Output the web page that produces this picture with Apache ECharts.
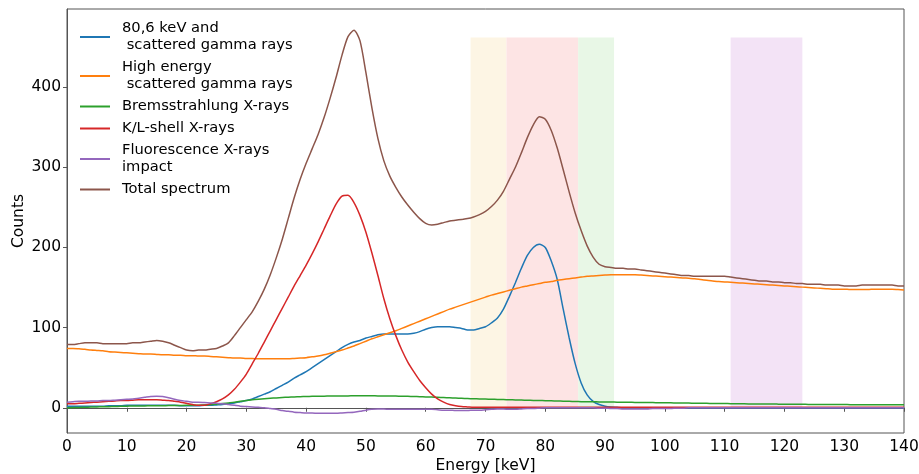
<!DOCTYPE html>
<html>
<head>
<meta charset="utf-8">
<script src="https://cdn.jsdelivr.net/npm/echarts@6/dist/echarts.min.js"></script>
<style>
  html, body { margin: 0; padding: 0; background: #fff; }
  #chart { width: 919px; height: 474px; }
</style>
</head>
<body>
<div id="chart"></div>
<script>
// energy channels, 1 keV apart
const energy = Array.from({ length: 141 }, (_, i) => i);

const gamma806 = [
  2, 2, 2, 2, 2, 2, 2, 2.5, 2.5, 2.5,
  3, 3, 3, 3, 3, 3, 3, 3, 3, 2.5,
  2.5, 2.5, 2.5, 3, 3, 3.5, 4, 5, 6, 7.5,
  9, 11, 14, 17, 20, 24, 28, 32, 37, 41,
  45, 50, 55, 60, 65, 70, 75, 79, 82, 84,
  87, 89, 91, 92, 92, 92, 92, 92, 93, 95,
  98, 100, 101, 101, 101, 100, 99, 97, 97, 99,
  101, 106, 112, 123, 139, 156, 174, 190, 200, 204,
  200, 183, 160, 123, 87, 55, 31, 16, 8, 4,
  2, 1, 0.5, 0, 0, 0, 0, 0, 0, 0,
  0, 0, 0, 0, 0, 0, 0, 0, 0, 0,
  0, 0, 0, 0, 0, 0, 0, 0, 0, 0,
  0, 0, 0, 0, 0, 0, 0, 0, 0, 0,
  0, 0, 0, 0, 0, 0, 0, 0, 0, 0, 0
];

const highEnergy = [
  74, 74, 73.5, 73, 72, 71.5, 71, 70, 69.5, 69,
  68.5, 68, 67.5, 67, 67, 66.5, 66, 66, 65.5, 65.5,
  65, 65, 64.5, 64.5, 64, 63.5, 63, 62.5, 62, 62,
  61.5, 61.5, 61, 61, 61, 61, 61, 61, 61.5, 62,
  62.5, 63.5, 64.5, 66, 68, 70, 72, 74.5, 77, 80,
  83, 86, 88.5, 91, 93.5, 96, 99, 102, 105, 108,
  111, 114, 117, 120, 123, 125.5, 128, 130.5, 133, 135.5,
  138, 140.5, 142.5, 144.5, 146.5, 148.5, 150.5, 152, 153.5, 155,
  156.5, 157.5, 159, 160, 161, 162, 163, 164, 164.5, 165,
  165.5, 166, 166, 166, 166, 166, 165.5, 165, 164.5, 164,
  163.5, 163, 162.5, 162, 161.5, 161, 160, 159, 158, 157.5,
  157, 156.5, 156, 155.5, 155, 154.5, 154, 153.5, 153, 152.5,
  152, 151.5, 151, 150.5, 150, 149.5, 149, 148.5, 148, 148,
  148, 147.5, 147.5, 147.5, 147.5, 148, 148, 148, 148, 147.5, 147
];

const brems = [
  0, 0.2, 0.4, 0.6, 0.8, 1, 1.2, 1.4, 1.6, 1.8,
  2, 2.1, 2.2, 2.3, 2.4, 2.5, 2.6, 2.7, 2.8, 2.9,
  3, 3, 3.2, 3.5, 4, 4.5, 5.2, 6, 7, 8,
  9, 10, 10.7, 11.3, 11.8, 12.3, 12.8, 13.2, 13.5, 13.8,
  14, 14.2, 14.4, 14.5, 14.6, 14.7, 14.8, 14.8, 14.9, 14.9,
  14.9, 14.9, 14.8, 14.8, 14.7, 14.6, 14.4, 14.2, 14, 13.8,
  13.5, 13.3, 13, 12.7, 12.4, 12.1, 11.8, 11.5, 11.2, 11,
  10.8, 10.6, 10.4, 10.2, 10, 9.8, 9.6, 9.4, 9.2, 9,
  8.8, 8.6, 8.4, 8.2, 8, 7.8, 7.6, 7.5, 7.4, 7.3,
  7.2, 7.1, 7, 6.9, 6.8, 6.7, 6.6, 6.5, 6.4, 6.3,
  6.2, 6.1, 6, 5.9, 5.8, 5.7, 5.6, 5.5, 5.4, 5.3,
  5.2, 5.1, 5, 4.9, 4.8, 4.8, 4.7, 4.6, 4.6, 4.5,
  4.4, 4.4, 4.3, 4.3, 4.2, 4.2, 4.1, 4.1, 4, 4,
  4, 3.9, 3.9, 3.8, 3.8, 3.8, 3.7, 3.7, 3.7, 3.6, 3.6
];

const klShell = [
  5, 5, 5.5, 6, 6.5, 7, 7.5, 8, 8.5, 9,
  9, 9.5, 10, 10, 10, 10, 9.5, 9, 8, 7,
  5.5, 4, 3, 3, 5, 7.5, 11, 16, 23, 32,
  42, 55, 68, 82, 96, 110, 124, 138, 152, 165,
  178, 192, 207, 223, 239, 254, 264, 265, 256, 240,
  219, 193, 165, 136, 111, 90, 72, 57, 45, 34,
  25, 17, 11, 7, 4, 2.5, 1.5, 1, 0.5, 0.5,
  0.5, 0.5, 0.5, 0.5, 0.5, 0.5, 0.5, 0.5, 0.5, 0.5,
  0.5, 0.5, 0.5, 0.5, 0.5, 0.5, 0.5, 0.5, 0.5, 0.5,
  0.5, 0.5, 0.5, 0.5, 0.5, 0.5, 0.5, 0.5, 0.5, 0.5,
  0.5, 0.5, 0.5, 0.5, 0.5, 0.5, 0.5, 0.5, 0.5, 0.5,
  0.5, 0.5, 0.5, 0.5, 0.5, 0.5, 0.5, 0.5, 0.5, 0.5,
  0.5, 0.5, 0.5, 0.5, 0.5, 0.5, 0.5, 0.5, 0.5, 0.5,
  0.5, 0.5, 0.5, 0.5, 0.5, 0.5, 0.5, 0.5, 0.5, 0.5, 0.5
];

const fluorescence = [
  7, 7.5, 8, 8, 8.5, 8.5, 9, 9, 9.5, 10,
  10.5, 11, 12, 13, 14, 14.5, 14, 12.5, 10.5, 9,
  8, 7, 7, 6.5, 6, 5.5, 5, 4, 3, 2,
  1.5, 1, 0.5, 0, -1, -2, -3.5, -4.5, -5.5, -6,
  -6.5, -6.5, -7, -7, -7, -7, -6.5, -6, -5.5, -4.5,
  -3, -2, -1.5, -1.5, -2, -2, -2, -2, -2, -2,
  -2, -2, -2.5, -3, -3, -3.5, -3.5, -3.5, -3, -3,
  -2.5, -2, -1.5, -1.5, -2, -2, -1.5, -1, -1, -0.5,
  0, 0, 0, 0, 0, 0, 0, 0, 0, -0.5,
  -0.5, -1, -1, -1.5, -1.5, -1.5, -1.5, -1.5, -1, -1,
  -1, -1, -0.5, -0.5, 0, 0, 0, 0, 0, 0,
  0, 0, 0, 0, 0, 0, 0, 0, 0, 0,
  0, 0, 0, 0, 0, 0, 0, 0, 0, 0,
  0, 0, 0, 0, 0, 0, 0, 0, 0, 0, 0
];

const total = [
  79, 79, 80, 81, 81, 81, 80, 80, 80, 80,
  80, 81, 81, 82, 83, 84, 83, 81, 78, 75,
  72, 71, 72, 72, 73, 74, 77, 81, 90, 100,
  110, 120, 133, 148, 166, 187, 210, 236, 262, 285,
  305, 323, 341, 362, 386, 412, 440, 463, 471, 458,
  418, 374, 336, 308, 289, 275, 263, 253, 244, 236,
  230, 228, 229, 231, 233, 234, 235, 236, 238, 241,
  245, 251, 259, 270, 285, 300, 318, 337, 353, 363,
  360, 346, 324, 297, 269, 243, 221, 202, 188, 179,
  176, 175, 174, 174, 173, 173, 172, 171, 170, 169,
  168, 167, 166, 165, 165, 164, 164, 164, 164, 164,
  164, 163, 162, 161, 160, 159, 158, 158, 157, 157,
  156, 156, 155, 155, 154, 154, 154, 153, 153, 153,
  152, 152, 152, 153, 153, 153, 153, 153, 153, 152, 152
];

const seriesNames = [
  '80,6 keV and\n scattered gamma rays',
  'High energy\n scattered gamma rays',
  'Bremsstrahlung X-rays',
  'K/L-shell X-rays',
  'Fluorescence X-rays\nimpact',
  'Total spectrum'
];
const seriesValues = [gamma806, highEnergy, brems, klShell, fluorescence, total];
const seriesColors = ['#1f77b4', '#ff7f0e', '#2ca02c', '#d62728', '#9467bd', '#8c564b'];

// energy windows [from, to] keV
const bandRanges = [[67.5, 73.5], [73.5, 85.5], [85.5, 91.5], [111, 123]];
const bandColors = ['#fdf5e4', '#fde4e4', '#e8f7e6', '#f3e3f6'];
const bandTop = 462;

const yTicks = [0, 100, 200, 300, 400];

const chart = echarts.init(document.getElementById('chart'));

const lines = seriesNames.map((name, k) => ({
  name: name,
  type: 'line',
  data: energy.map((e, i) => [e, seriesValues[k][i]]),
  symbol: 'none',
  smooth: 0.25,
  lineStyle: { width: 1.5, color: seriesColors[k] },
  itemStyle: { color: seriesColors[k] },
  z: 3,
  animation: false
}));

chart.setOption({
  animation: false,
  grid: {
    left: 67, right: 15, top: 9, bottom: 41,
    outerBoundsMode: 'none',
    containLabel: false,
    show: true, borderColor: '#555', borderWidth: 1
  },
  legend: {
    data: seriesNames,
    orient: 'vertical',
    left: 80, top: 20,
    padding: 0,
    icon: 'rect',
    itemWidth: 30, itemHeight: 2,
    itemGap: 5,
    textStyle: {
      fontFamily: 'DejaVu Sans', fontSize: 14.7, color: '#000',
      lineHeight: 17, padding: [0, 0, 0, 7]
    }
  },
  xAxis: {
    type: 'value', min: 0, max: 140, interval: 10,
    name: 'Energy [keV]', nameLocation: 'middle', nameGap: 25,
    nameMoveOverlap: false,
    nameTextStyle: { fontFamily: 'DejaVu Sans', fontSize: 15.5, color: '#000' },
    axisLine: { show: true, lineStyle: { color: '#555' } },
    axisTick: { show: true, length: 4, lineStyle: { color: '#555' } },
    axisLabel: { fontFamily: 'DejaVu Sans', fontSize: 15.5, color: '#000', margin: 6 },
    splitLine: { show: false }
  },
  yAxis: {
    type: 'value', min: -31.5, max: 497.5,
    name: 'Counts', nameLocation: 'middle', nameGap: 40,
    nameMoveOverlap: false,
    nameTextStyle: { fontFamily: 'DejaVu Sans', fontSize: 15.5, color: '#000' },
    axisLine: { show: true, lineStyle: { color: '#555' } },
    axisTick: { show: true, length: 4, customValues: yTicks, lineStyle: { color: '#555' } },
    axisLabel: { fontFamily: 'DejaVu Sans', fontSize: 15.5, color: '#000', margin: 6, customValues: yTicks },
    splitLine: { show: false }
  },
  series: [{
    name: 'bands',
    type: 'line',
    data: [],
    z: 1,
    silent: true,
    markArea: {
      silent: true,
      data: bandRanges.map((r, i) => [
        { xAxis: r[0], yAxis: 0, itemStyle: { color: bandColors[i] } },
        { xAxis: r[1], yAxis: bandTop }
      ])
    }
  }].concat(lines)
});
</script>
</body>
</html>
